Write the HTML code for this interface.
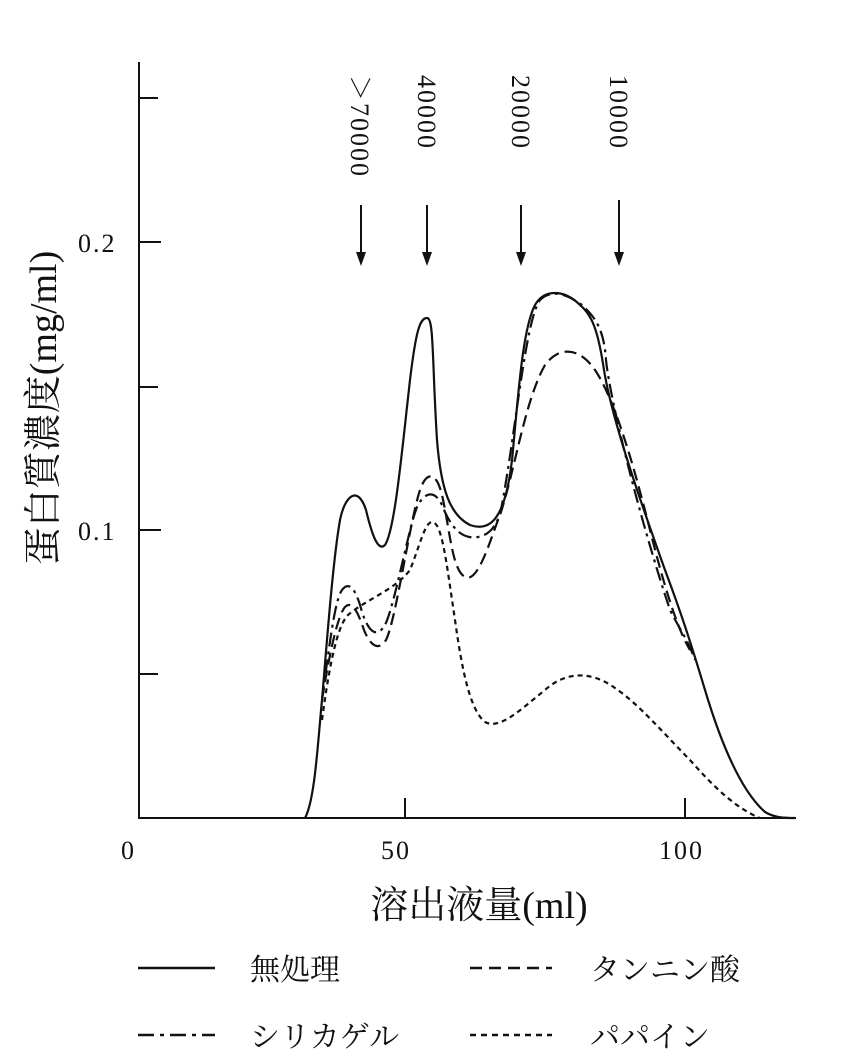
<!DOCTYPE html>
<html><head><meta charset="utf-8"><style>
html,body{margin:0;padding:0;background:#fff;}
svg{display:block;}
text{font-family:"Liberation Serif","Noto Serif CJK SC",serif;fill:#111;}
.j{font-family:"Liberation Serif","Noto Serif CJK SC","Noto Sans CJK JP",serif;}
</style></head><body>
<svg width="858" height="1063" viewBox="0 0 858 1063" xmlns="http://www.w3.org/2000/svg">
<g stroke="#111" stroke-width="2" fill="none">
<line x1="139" y1="62" x2="139" y2="819"/>
<line x1="138" y1="818" x2="796" y2="818"/>
<line x1="139" y1="98" x2="158" y2="98"/>
<line x1="139" y1="242" x2="161" y2="242"/>
<line x1="139" y1="387" x2="158" y2="387"/>
<line x1="139" y1="530" x2="161" y2="530"/>
<line x1="139" y1="674" x2="158" y2="674"/>
<line x1="405" y1="818" x2="405" y2="798"/>
<line x1="685" y1="818" x2="685" y2="798"/>
<line x1="361" y1="205" x2="361" y2="255"/>
<line x1="427" y1="205" x2="427" y2="255"/>
<line x1="521" y1="205" x2="521" y2="255"/>
<line x1="619" y1="200" x2="619" y2="255"/>
</g>
<g fill="#111">
<polygon points="356,252 366,252 361,266"/>
<polygon points="422,252 432,252 427,266"/>
<polygon points="516,252 526,252 521,266"/>
<polygon points="614,252 624,252 619,266"/>
</g>
<g font-size="26" letter-spacing="2">
<text transform="translate(351,75) rotate(90)">＞70000</text>
<text transform="translate(418,75) rotate(90)">40000</text>
<text transform="translate(512,75) rotate(90)">20000</text>
<text transform="translate(610,75) rotate(90)">10000</text>
<text x="78" y="252">0.2</text>
<text x="78" y="540">0.1</text>
<text x="121" y="859">0</text>
<text x="381" y="859">50</text>
<text x="659" y="859">100</text>
</g>
<text class="j" font-size="38" transform="translate(56,408) rotate(-90)" text-anchor="middle">蛋白質濃度(mg/ml)</text>
<text class="j" font-size="38" x="479" y="918" text-anchor="middle">溶出液量(ml)</text>
<g fill="none" stroke="#111" stroke-width="2.2">
<path d="M305,818 C315,800 318,740 322,700 C327,640 333,560 340,520 C345,495 358,485 366,510 C372,535 378,552 385,545 C395,530 402,450 410,380 C416,330 420,318 427,318 C434,318 432,360 437,440 C441,490 450,515 470,525 C490,532 505,520 512,460 C518,400 522,330 535,305 C545,288 565,290 580,305 C592,315 598,330 604,370 C612,420 640,500 665,570 C680,610 690,640 705,690 C720,740 740,790 765,812 C775,818 785,818 795,818"/>
<path stroke-dasharray="14,5,3,5" d="M322,700 C330,640 335,600 342,590 C348,582 355,585 362,612 C368,630 376,640 385,625 C395,605 410,520 418,505 C425,492 435,490 442,505 C450,525 460,540 478,537 C492,534 495,525 500,515 C515,440 525,320 540,300 C552,288 568,295 582,305 C596,318 604,330 606,360 C610,400 640,520 670,610 C680,630 688,640 695,660"/>
<path stroke-dasharray="12,6" d="M322,700 C330,650 338,615 345,607 C352,600 358,612 364,630 C370,645 378,652 386,640 C396,620 410,520 420,490 C426,472 436,470 442,495 C450,530 452,570 465,577 C478,584 490,540 500,515 C515,470 525,400 545,365 C560,345 580,348 595,370 C612,395 630,450 650,530 C665,590 678,630 690,650"/>
<path stroke-dasharray="5,4" d="M322,720 C330,660 338,625 348,615 C365,600 395,590 410,570 C420,545 425,522 432,522 C442,522 446,560 455,620 C462,670 470,710 485,722 C500,730 520,710 545,690 C565,672 590,670 615,688 C640,705 665,735 690,760 C712,785 735,808 760,818"/>
</g>
<g stroke="#111" stroke-width="2.5" fill="none">
<line x1="138" y1="968" x2="215" y2="968"/>
<line x1="470" y1="968" x2="552" y2="968" stroke-dasharray="12,7"/>
<line x1="138" y1="1035" x2="215" y2="1035" stroke-dasharray="16,6,4,6"/>
<line x1="470" y1="1035" x2="552" y2="1035" stroke-dasharray="6,5"/>
</g>
<g class="j" font-size="30">
<text x="250" y="980">無処理</text>
<text x="590" y="980">タンニン酸</text>
<text x="250" y="1047">シリカゲル</text>
<text x="590" y="1047">パパイン</text>
</g>
</svg>
</body></html>
